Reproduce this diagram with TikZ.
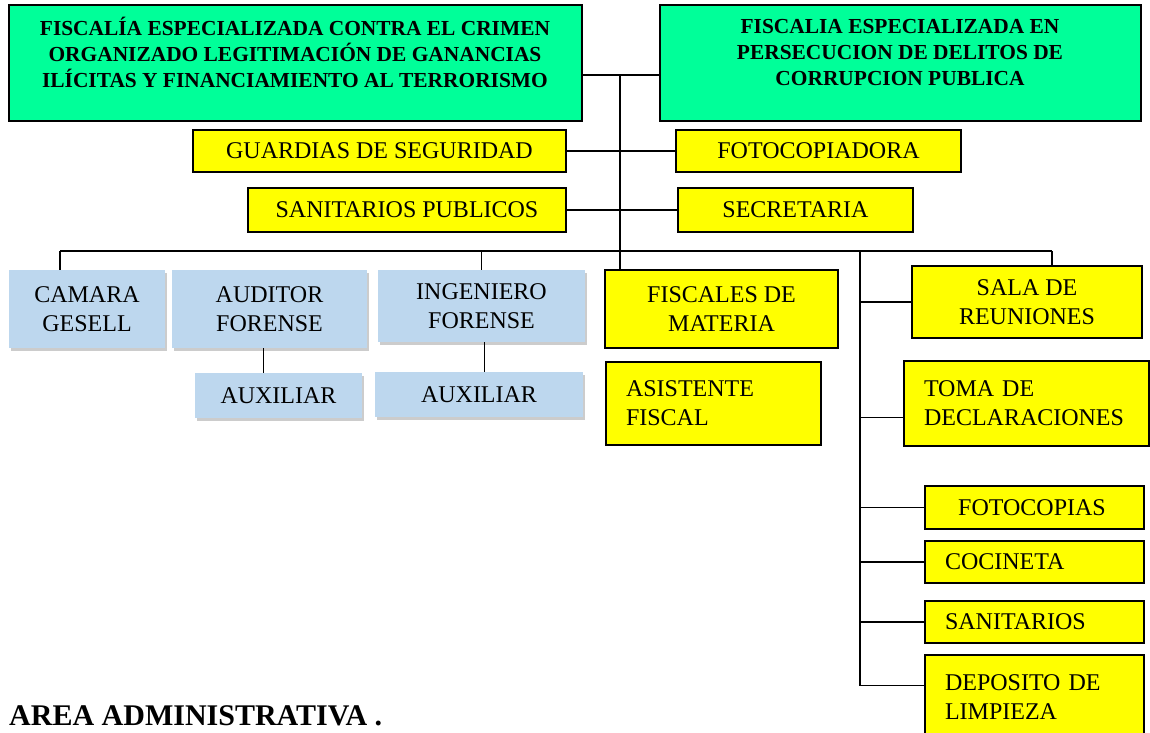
\documentclass[tikz,border=0pt]{standalone}
\usepackage{fontspec}
\setmainfont{Liberation Serif}
\usetikzlibrary{shadows}
\definecolor{fgreen}{RGB}{0,255,153}
\definecolor{fblue}{RGB}{189,215,238}
\definecolor{fyellow}{RGB}{255,255,0}
\tikzset{
  wh/.style 2 args={minimum width=#1pt, minimum height=#2pt},
  gbox/.style={draw, line width=1.4pt, fill=fgreen, inner sep=0pt},
  gtext/.style={align=center, inner sep=0pt, font=\fontsize{21.4}{26}\selectfont\bfseries},
  ybox/.style={draw, line width=1.2pt, fill=fyellow, inner sep=0pt, align=center, font=\fontsize{24}{29}\selectfont},
  yleft/.style={ybox, inner xsep=20pt, text width=#1pt, align=left},
  bbox/.style={fill=fblue, inner sep=0pt, align=center, font=\fontsize{24}{29}\selectfont,
    drop shadow={shadow xshift=2pt, shadow yshift=-3pt, opacity=0.4}},
  link/.style={line width=1.6pt}
}
\begin{document}
\begin{tikzpicture}[x=1pt, y=-1pt]
  \clip (0,0) rectangle (1150,732);
  % fiscalias
  \node[gbox, wh={573}{116}] (fcc) at (295.5,63) {};
  \node[gtext] (fcc-txt) at (295,52) {FISCALÍA ESPECIALIZADA CONTRA EL CRIMEN\\ORGANIZADO LEGITIMACIÓN DE GANANCIAS\\ILÍCITAS Y FINANCIAMIENTO AL TERRORISMO};
  \node[gbox, wh={481}{116}] (fcp) at (900.5,63) {};
  \node[gtext] (fcp-txt) at (900,53) {FISCALIA ESPECIALIZADA EN\\PERSECUCION DE DELITOS DE\\CORRUPCION PUBLICA};
  % servicios generales
  \node[ybox, wh={373}{42}] (guard) at (379.5,151) {GUARDIAS DE SEGURIDAD};
  \node[ybox, wh={285}{42}] (fcop) at (818.5,151) {FOTOCOPIADORA};
  \node[ybox, wh={318}{44}] (spub) at (407,210) {SANITARIOS PUBLICOS};
  \node[ybox, wh={235}{44}] (secr) at (795.5,210) {SECRETARIA};
  % area tecnica
  \node[bbox, wh={156}{78}] (cam) at (87,309) {CAMARA\\GESELL};
  \node[bbox, wh={195}{78}] (aud) at (269.5,309) {AUDITOR\\FORENSE};
  \node[bbox, wh={207}{72}] (ing) at (481.5,306) {INGENIERO\\FORENSE};
  \node[bbox, wh={167}{45}] (aux1) at (278.5,395.5) {AUXILIAR};
  \node[bbox, wh={208}{45}] (aux2) at (479,394.5) {AUXILIAR};
  % fiscales
  \node[ybox, wh={233}{78}] (fis) at (721.5,309) {FISCALES DE\\MATERIA};
  \node[yleft=175, wh={215}{83}] (asi) at (713.5,403.5) {ASISTENTE\\FISCAL};
  % area administrativa
  \node[ybox, wh={230}{72}] (sala) at (1027,302) {SALA DE\\REUNIONES};
  \node[yleft=205, wh={245}{85}] (toma) at (1026.5,403.5) {TOMA DE\\DECLARACIONES\\[-3pt]};
  \node[ybox, wh={219}{43}] (foto) at (1034.5,507.5) {\hspace{-5pt}FOTOCOPIAS};
  \node[yleft=179, wh={219}{42}] (coc) at (1034.5,562) {COCINETA};
  \node[yleft=179, wh={219}{42}] (sani) at (1034.5,622) {SANITARIOS};
  \node[yleft=179, wh={219}{85}] (dep) at (1034.5,697.5) {DEPOSITO DE\\LIMPIEZA};
  \node[anchor=base west, inner sep=0pt, font=\fontsize{30}{35}\selectfont\bfseries] (area) at (9,725) {AREA ADMINISTRATIVA .};
  % conectores
  \coordinate (hub) at (620,75);
  \coordinate (busL) at (60,251);
  \coordinate (busR) at (1052,251);
  \coordinate (spine) at (860,251);
  \draw[link] ([yshift=-12pt]fcc.east) -- ([yshift=-12pt]fcp.west);
  \draw[link] (hub) -- (hub |- fis.north);
  \draw[link] (guard) -- (fcop);
  \draw[link] (spub) -- (secr);
  \draw[link] (busL) -- (busR);
  \draw[link] (busL) -- (busL |- cam.north);
  \draw[link] (ing.north |- busL) -- (ing.north);
  \draw[link] (busR) -- (busR |- sala.north);
  \draw[link] ([xshift=-6pt]aud.south) -- ([xshift=-6pt]aud.south |- aux1.north);
  \draw[link] ([xshift=3pt]ing.south) -- ([xshift=3pt]ing.south |- aux2.north);
  \coordinate (spineEnd) at ([yshift=12pt]dep.west -| spine);
  \draw[link] (spine) -- (spineEnd) -- ([yshift=12pt]dep.west);
  \draw[link] ([yshift=-14pt]toma.west -| spine) -- ([yshift=-14pt]toma.west);
  \foreach \n in {sala, foto, coc, sani}
    \draw[link] (spine |- \n.west) -- (\n.west);
\end{tikzpicture}
\end{document}
